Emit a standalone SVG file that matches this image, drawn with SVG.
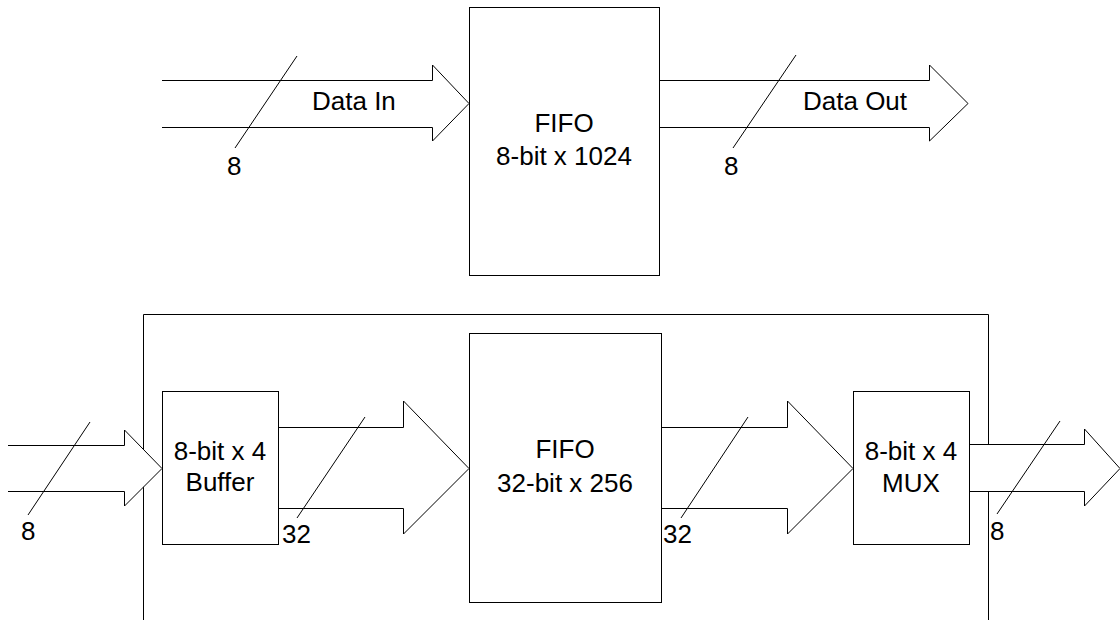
<svg xmlns="http://www.w3.org/2000/svg" width="1120" height="620" viewBox="0 0 1120 620">
<style>
.box{fill:#fff;stroke:#000;stroke-width:1}
.arr{fill:#fff;stroke:#000;stroke-width:1}
.sl{stroke:#000;stroke-width:1;fill:none}
text{font-family:"Liberation Sans",Arial,sans-serif;font-size:26px;fill:#000}
.c{text-anchor:middle}
</style>
<rect width="1120" height="620" fill="#fff"/>
<g id="container">
<path class="sl" d="M143.5,622 V314.5 H988.5 V622"/>
</g>
<g id="fifo-top">
<rect class="box" x="469.5" y="7.5" width="190" height="268"/>
<text class="c" x="564" y="132">FIFO</text>
<text class="c" x="564" y="165">8-bit x 1024</text>
</g>
<g id="buffer">
<rect class="box" x="162.5" y="391.5" width="116" height="153"/>
<text class="c" x="220" y="460">8-bit x 4</text>
<text class="c" x="220" y="491">Buffer</text>
</g>
<g id="fifo-bottom">
<rect class="box" x="469.5" y="333.5" width="192" height="269"/>
<text class="c" x="565" y="458">FIFO</text>
<text class="c" x="565" y="492">32-bit x 256</text>
</g>
<g id="mux">
<rect class="box" x="853.5" y="391.5" width="116" height="153"/>
<text class="c" x="911" y="460">8-bit x 4</text>
<text class="c" x="911" y="492">MUX</text>
</g>
<g id="connectors">
<path class="arr" d="M162,80.5 H432.5 V65 L469,103.5 L432.5,141 V127.5 H162"/>
<line class="sl" x1="297" y1="56" x2="235" y2="148"/>
<text x="312" y="110">Data In</text>
<text x="227" y="175">8</text>
<path class="arr" d="M660,80.5 H929.5 V65 L968,103.5 L929.5,141 V127.5 H660"/>
<line class="sl" x1="796" y1="55" x2="733" y2="148"/>
<text x="803" y="110">Data Out</text>
<text x="724" y="175">8</text>
<path class="arr" d="M8,445.5 H124.5 V430 L162,468.5 L124.5,506 V491.5 H8"/>
<line class="sl" x1="90" y1="422" x2="28" y2="515"/>
<text x="21" y="540">8</text>
<path class="arr" d="M279,427.5 H403.5 V401 L469,468.5 L403.5,534 V508.5 H279"/>
<line class="sl" x1="365" y1="417" x2="297" y2="518"/>
<text x="282" y="543">32</text>
<path class="arr" d="M662,427.5 H787.5 V401 L853,468.5 L787.5,534 V508.5 H662"/>
<line class="sl" x1="748" y1="417" x2="681" y2="518"/>
<text x="663" y="543">32</text>
<path class="arr" d="M970,444.5 H1084.5 V429 L1120,468.5 L1084.5,506 V491.5 H970"/>
<line class="sl" x1="1060" y1="421" x2="997" y2="514"/>
<text x="990" y="540">8</text>
</g>
</svg>
